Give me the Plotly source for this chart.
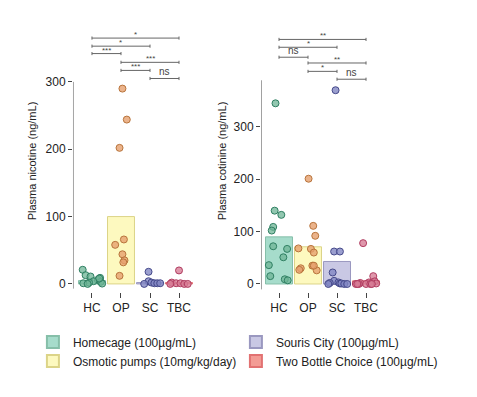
import plotly.graph_objects as go

# ---------------- data ----------------
categories = ["HC", "OP", "SC", "TBC"]
group_names = ["Homecage (100µg/mL)", "Osmotic pumps (10mg/kg/day)",
               "Souris City (100µg/mL)", "Two Bottle Choice (100µg/mL)"]

# Plasma nicotine (ng/mL)
nic_bar = [5, 100, 2, 2]
nic_hc = [21, 13, 11, 9, 6, 4, 3, 2, 1, 0.5, 8, 0]
nic_op = [290, 244, 202, 66, 58, 44, 35, 32, 12]
nic_sc = [18, 4, 2, 1, 1, 1, 0]
nic_tbc = [20, 2, 1, 1, 0, 0, 0]

# Plasma cotinine (ng/mL)
cot_bar = [90, 71, 43, 6]
cot_hc = [345, 140, 132, 109, 102, 72, 67, 51, 36, 15, 9, 7]
cot_op = [201, 111, 92, 68, 67, 60, 35, 30, 27, 26, 35]
cot_sc = [370, 62, 62, 22, 6, 3, 2, 1, 1, 0, 0, 0]
cot_tbc = [78, 15, 5, 3, 2, 1, 0, 0, 0, 0, 0, 0]

# jitter (horizontal offsets)
nic_hc_j = [-0.32, -0.22, -0.05, 0.28, 0.2, 0.05, 0.3, -0.1, -0.3, 0.35, 0.25, -0.15]
nic_op_j = [0.05, 0.2, -0.05, 0.1, -0.2, 0.05, 0.12, 0.08, -0.05]
nic_sc_j = [-0.05, -0.05, 0.05, 0.15, 0.25, 0.35, -0.2]
nic_tbc_j = [0.0, -0.25, -0.1, 0.05, 0.18, 0.3, -0.3]

cot_hc_j = [-0.12, -0.15, 0.08, -0.2, -0.25, -0.2, 0.28, 0.15, -0.35, -0.3, 0.2, 0.3]
cot_op_j = [0.02, 0.18, 0.25, -0.33, 0.1, 0.2, 0.15, -0.25, -0.3, 0.3, 0.2]
cot_sc_j = [-0.05, -0.1, 0.1, -0.15, -0.1, 0.05, -0.25, 0.1, 0.15, -0.3, 0.25, 0.35]
cot_tbc_j = [-0.1, 0.25, 0.3, 0.1, -0.2, 0.35, -0.35, -0.25, 0.0, 0.15, -0.3, 0.2]

# significance brackets: (i, j, label)
nic_sig = [(0, 3, "*"), (0, 2, "*"), (0, 1, "***"), (1, 3, "***"), (1, 2, "***"), (2, 3, "ns")]
cot_sig = [(0, 3, "**"), (0, 2, "*"), (0, 1, "ns"), (1, 3, "**"), (1, 2, "*"), (2, 3, "ns")]

# ---------------- styles ----------------
bar_fill = ["#a6dccb", "#fdf9bf", "#c9c8e4", "#f39c95"]
bar_line = ["#86bfa9", "#dcd488", "#9a98c0", "#e27272"]
pt_fill = ["rgba(110,180,150,0.75)", "rgba(230,160,110,0.8)", "rgba(130,135,195,0.8)", "rgba(215,125,150,0.8)"]
pt_line = ["#2f7f62", "#b8743c", "#45498a", "#b03c60"]

FONT = "Liberation Sans, Arial, sans-serif"
fig = go.Figure()

panels = [
    dict(xa="x", ya="y", bars=nic_bar, pts=[nic_hc, nic_op, nic_sc, nic_tbc],
         jit=[nic_hc_j, nic_op_j, nic_sc_j, nic_tbc_j], sig=nic_sig,
         yr=[-12, 377], sig_y=[365, 353, 342, 329, 317, 305], line_top=300, xr=[-0.655, 3.5]),
    dict(xa="x2", ya="y2", bars=cot_bar, pts=[cot_hc, cot_op, cot_sc, cot_tbc],
         jit=[cot_hc_j, cot_op_j, cot_sc_j, cot_tbc_j], sig=cot_sig,
         yr=[-15.3, 485], sig_y=[467, 452, 433, 422, 406, 391], line_top=389, xr=[-0.62, 3.55]),
]

for p_i, p in enumerate(panels):
    # bars
    for k in range(4):
        fig.add_trace(go.Bar(
            x=[k], y=[p["bars"][k]], width=0.93, xaxis=p["xa"], yaxis=p["ya"],
            marker=dict(color=bar_fill[k], line=dict(color=bar_line[k], width=1)),
            name=group_names[k], legendgroup=group_names[k], showlegend=(p_i == 0),
            legendrank=[1, 3, 2, 4][k], hoverinfo="skip"))
    # points
    for k in range(4):
        vals = p["pts"][k]
        xs = [k + j for j in p["jit"][k]]
        fig.add_trace(go.Scatter(
            x=xs, y=vals, mode="markers", xaxis=p["xa"], yaxis=p["ya"], showlegend=False,
            cliponaxis=False,
            marker=dict(size=7, color=pt_fill[k], line=dict(color=pt_line[k], width=1))))
    # y axis line
    fig.add_trace(go.Scatter(
        x=[p["xr"][0], p["xr"][0]], y=[p["yr"][0] + 5, p["line_top"]], mode="lines",
        xaxis=p["xa"], yaxis=p["ya"], showlegend=False, cliponaxis=False,
        line=dict(color="#444", width=1), hoverinfo="skip"))
    # brackets
    span = p["yr"][1] - p["yr"][0]
    d = span * 0.006
    for (i, j, lab), yy in zip(p["sig"], p["sig_y"]):
        fig.add_trace(go.Scatter(
            x=[i, i, None, i, j, None, j, j], y=[yy - d, yy + d, None, yy, yy, None, yy - d, yy + d],
            mode="lines", xaxis=p["xa"], yaxis=p["ya"], showlegend=False, cliponaxis=False,
            line=dict(color="#666", width=1), hoverinfo="skip"))
        is_ns = lab == "ns"
        fig.add_annotation(
            x=(i + j) / 2, y=yy, xref=p["xa"], yref=p["ya"], text=lab, showarrow=False,
            yanchor="bottom", yshift=-1 if is_ns else -3,
            font=dict(family=FONT, size=10 if is_ns else 8, color="#444"))

axis_common = dict(showgrid=False, zeroline=False, showline=False)
TICKF = dict(size=12, color="#222")
fig.update_layout(
    width=477, height=397,
    margin=dict(l=0, r=0, t=30, b=105),
    paper_bgcolor="white", plot_bgcolor="white",
    barmode="overlay",
    font=dict(family=FONT, size=12, color="#222"),
    xaxis=dict(domain=[0.1530, 0.4057], range=panels[0]["xr"], tickvals=[0, 1, 2, 3],
               ticktext=categories, ticks="outside", ticklen=5, tickcolor="#444",
               tickfont=TICKF, **axis_common),
    xaxis2=dict(domain=[0.5472, 0.8008], range=panels[1]["xr"], tickvals=[0, 1, 2, 3],
                ticktext=categories, ticks="outside", ticklen=5, tickcolor="#444",
                tickfont=TICKF, **axis_common),
    yaxis=dict(anchor="x", range=panels[0]["yr"], tickvals=[0, 100, 200, 300],
               ticks="outside", ticklen=4, tickcolor="#444", tickfont=TICKF,
               title=dict(text="Plasma nicotine (ng/mL)", font=dict(size=11, color="#222"), standoff=6),
               **axis_common),
    yaxis2=dict(anchor="x2", range=panels[1]["yr"], tickvals=[0, 100, 200, 300],
                ticks="outside", ticklen=4, tickcolor="#444", tickfont=TICKF,
                title=dict(text="Plasma cotinine (ng/mL)", font=dict(size=11, color="#222"), standoff=4),
                **axis_common),
    legend=dict(orientation="h", x=0.069, xanchor="left", xref="container",
                y=0.175, yanchor="top", yref="container",
                entrywidth=158, entrywidthmode="pixels", traceorder="normal",
                font=dict(size=12, color="#222"), itemsizing="constant", bgcolor="rgba(0,0,0,0)"),
)

fig.write_html("out.html", config={"displayModeBar": False},
               post_script="document.body.style.margin='0';document.body.style.overflow='hidden';")
